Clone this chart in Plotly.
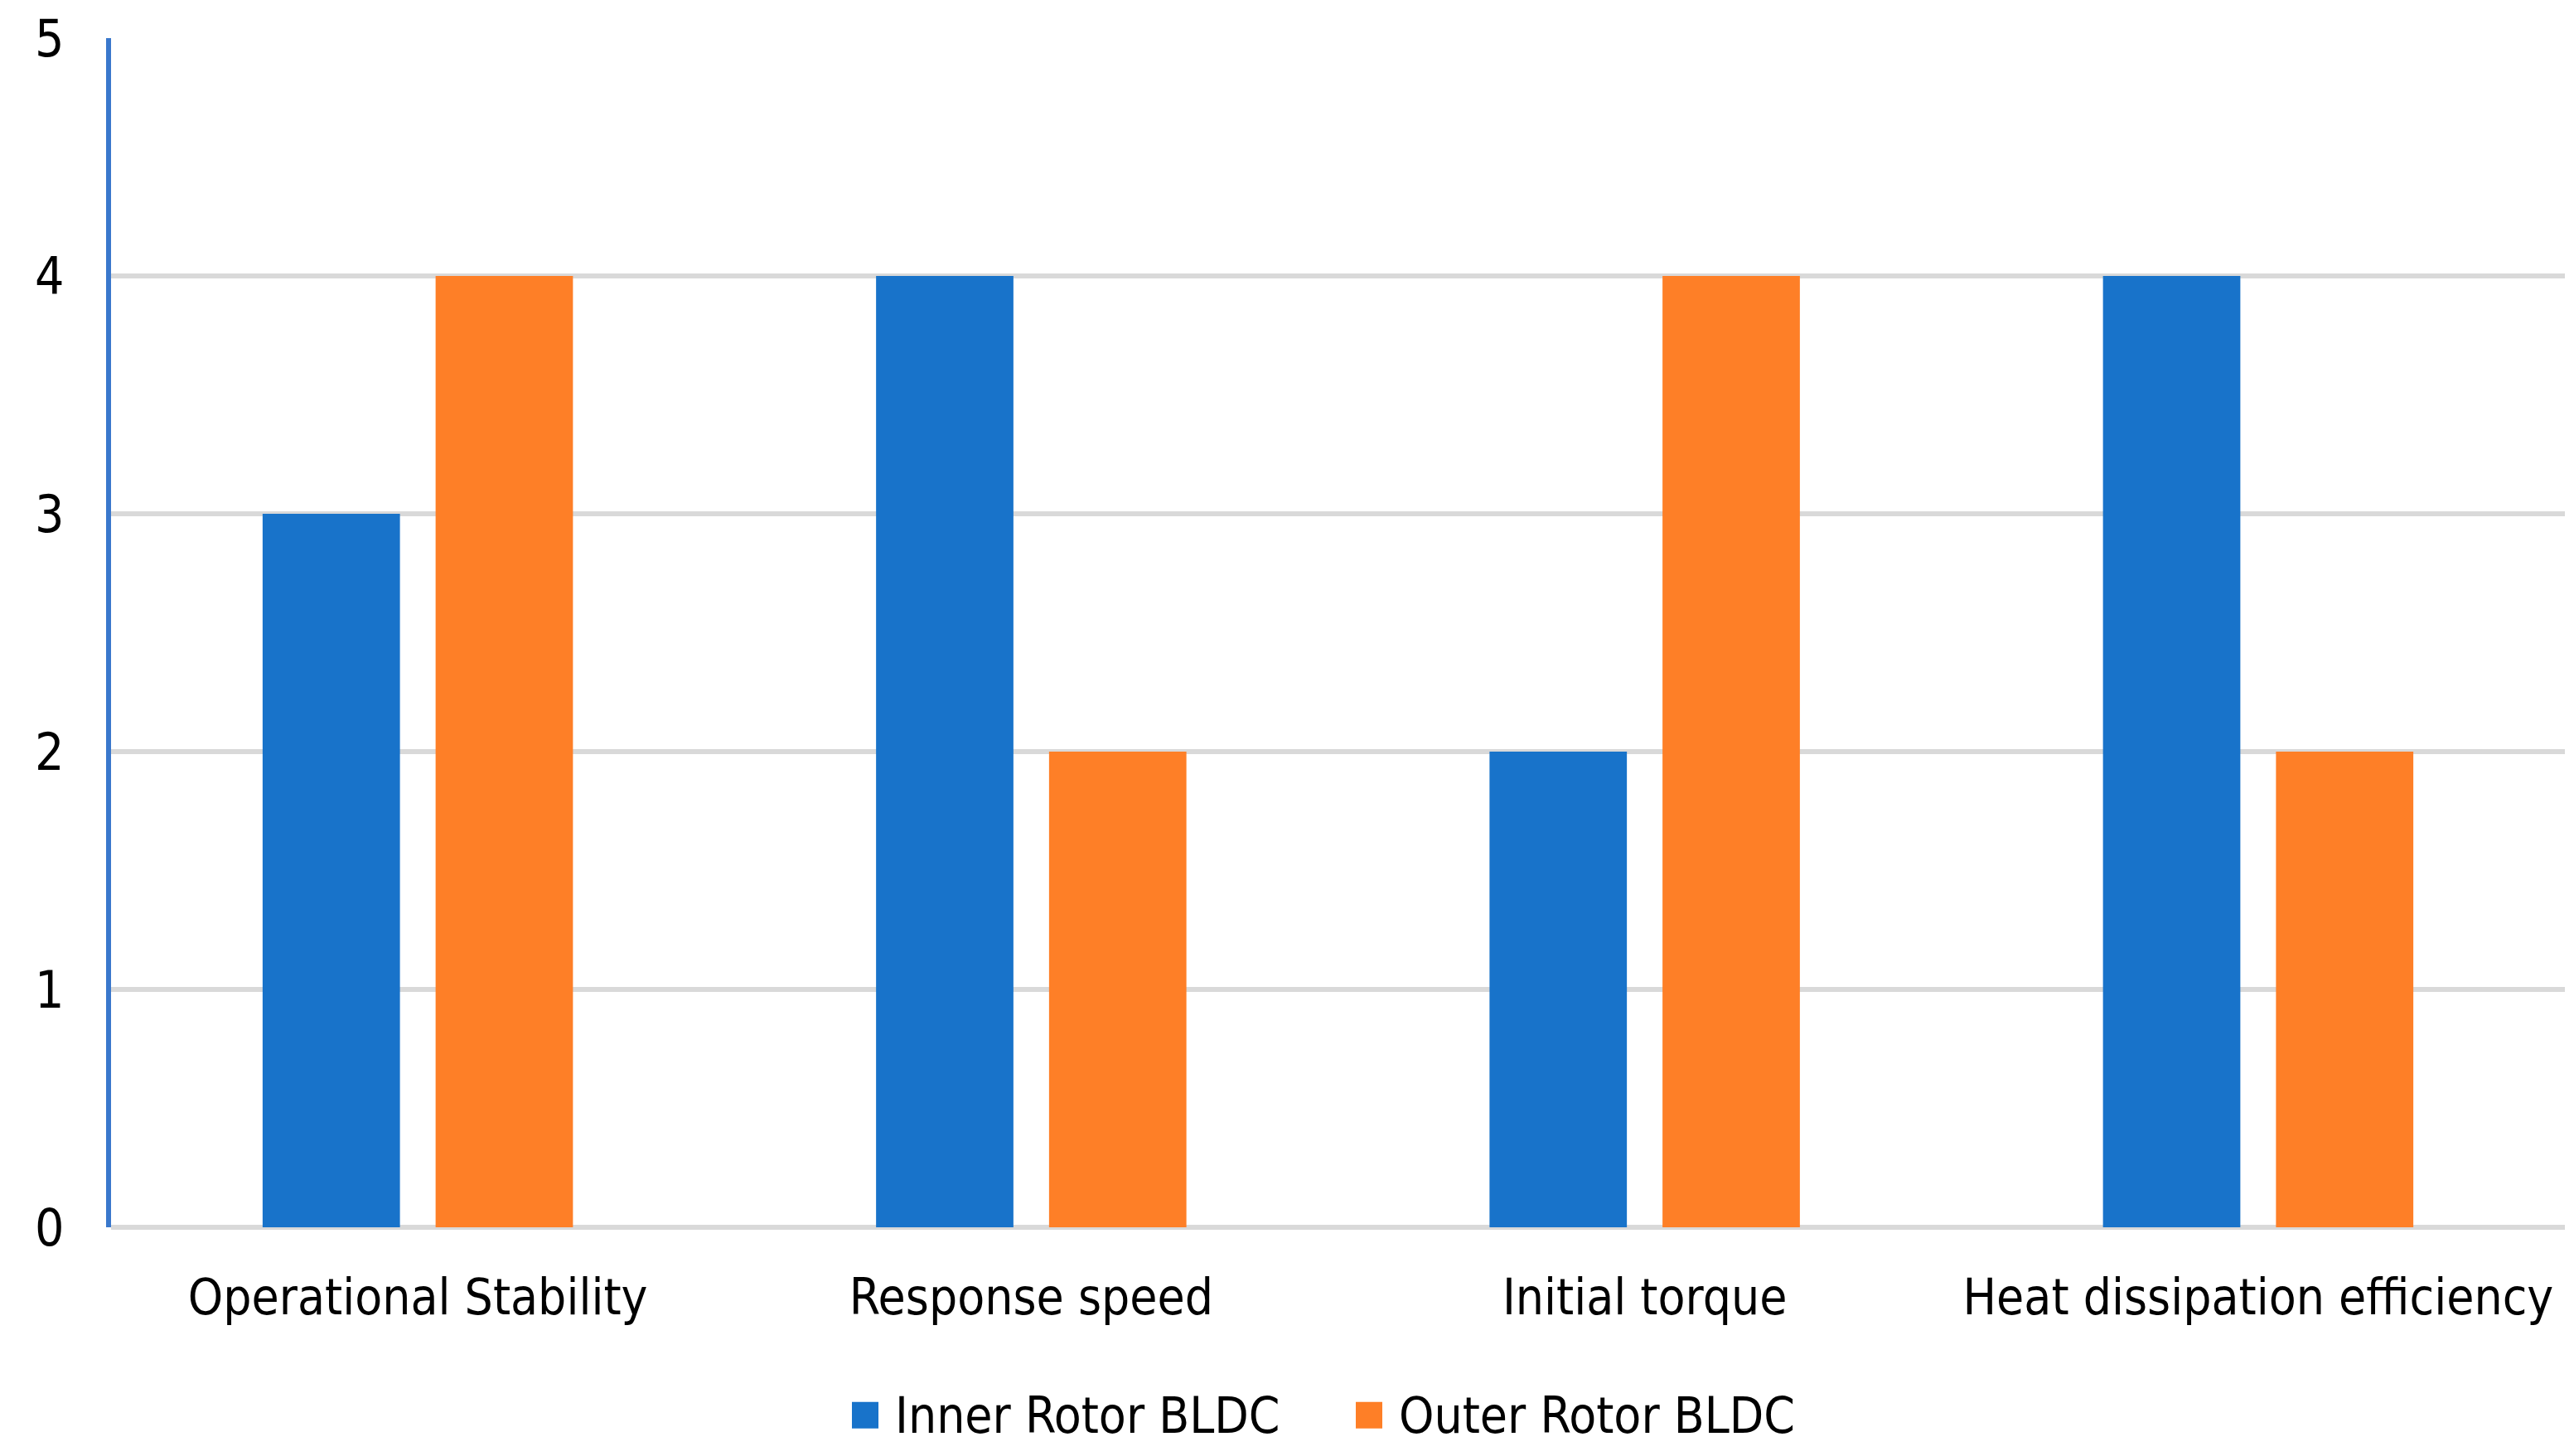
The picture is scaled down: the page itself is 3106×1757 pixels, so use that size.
import plotly.graph_objects as go

# categories and scores
categories = ['Operational Stability', 'Response speed', 'Initial torque', 'Heat dissipation efficiency']
inner_rotor = [3, 4, 2, 4]
outer_rotor = [4, 2, 4, 2]
series_names = ['Inner Rotor BLDC', 'Outer Rotor BLDC']
y_ticks = [0, 1, 2, 3, 4, 5]

colors = ['#1873ca', '#fe7f27']
font_family = 'Liberation Sans Narrow, DejaVu Sans Condensed, Arial, sans-serif'

fig = go.Figure()

fig.add_trace(go.Bar(
    x=categories,
    y=inner_rotor,
    name=series_names[0],
    marker_color=colors[0],
    marker_line_width=0
))

fig.add_trace(go.Bar(
    x=categories,
    y=outer_rotor,
    name=series_names[1],
    marker_color=colors[1],
    marker_line_width=0
))

# legend drawn by hand so the swatches come out as big as in the original
legend_y = -0.158
legend_x = [(1028 - 134) / 2961, (1636 - 134) / 2961]
for name, color, lx in zip(series_names, colors, legend_x):
    fig.add_shape(
        type='rect', xref='paper', yref='paper',
        xsizemode='pixel', ysizemode='pixel',
        xanchor=lx, yanchor=legend_y,
        x0=0, x1=32, y0=-16, y1=16,
        fillcolor=color, line_width=0
    )
    fig.add_annotation(
        text=name, xref='paper', yref='paper',
        x=lx, y=legend_y, xshift=50,
        xanchor='left', yanchor='middle',
        showarrow=False, font={'size': 60}
    )

# page body has an 8px margin, so the figure is 8px smaller each way
fig.update_layout(
    width=3098,
    height=1749,
    margin={'l': 126, 'r': 11, 't': 38, 'b': 276},
    paper_bgcolor='white',
    plot_bgcolor='white',
    barmode='group',
    bargap=0.436,
    bargroupgap=0.206,
    font={'family': font_family, 'size': 60, 'color': '#000000'},
    xaxis={
        'showgrid': False,
        'showline': False,
        'ticks': '',
        'automargin': False,
        'ticklabelstandoff': 44,
        'tickfont': {'size': 60}
    },
    yaxis={
        'range': [0, 5],
        'tickvals': y_ticks,
        'showgrid': True,
        'gridcolor': '#d9d9d9',
        'gridwidth': 6,
        'zeroline': True,
        'zerolinecolor': '#d9d9d9',
        'zerolinewidth': 6,
        'showline': True,
        'linecolor': '#3a78cc',
        'linewidth': 6,
        'ticks': '',
        'automargin': False,
        'ticklabelstandoff': 38,
        'tickfont': {'size': 62}
    },
    showlegend=False
)

fig.write_html("out.html")
